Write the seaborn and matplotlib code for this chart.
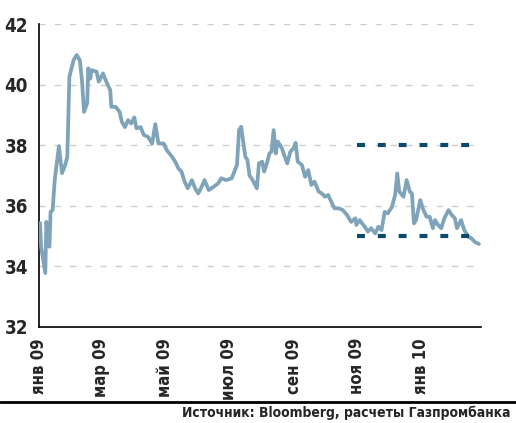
import matplotlib
matplotlib.use('Agg')
import matplotlib.pyplot as plt
import seaborn as sns
import pandas as pd

# days since 1 Jan 2009 and index level
days = [1, 2, 6, 7, 10, 11, 13, 15, 19, 22, 25, 27, 29, 33, 36, 39, 41, 43, 46, 47,
        49, 50, 55, 57, 61, 65, 68, 69, 73, 77, 79, 82, 85, 88, 91, 93, 97, 100, 104, 108,
        111, 114, 119, 122, 127, 130, 133, 136, 139, 142, 146, 149, 152, 155, 158, 162, 166, 171, 174, 179,
        184, 189, 191, 193, 197, 199, 201, 204, 208, 210, 213, 215, 218, 220, 222, 224, 226, 228, 232, 234,
        237, 240, 243, 245, 247, 251, 254, 257, 260, 263, 267, 270, 273, 276, 279, 282, 286, 290, 294, 298,
        302, 303, 306, 311, 314, 317, 321, 324, 327, 330, 333, 337, 340, 342, 344, 348, 351, 354, 356, 358,
        360, 364, 367, 370, 373, 376, 378, 381, 384, 387, 391, 394, 397, 399, 403, 406, 410, 413, 416, 420]
values = [35.43, 34.65, 33.78, 35.47, 34.65, 35.8, 35.86, 36.85, 37.97, 37.08, 37.35, 37.62, 40.26, 40.81, 40.98, 40.8, 40.15, 39.1, 39.39, 40.54,
          40.2, 40.48, 40.43, 40.1, 40.37, 40.04, 39.82, 39.27, 39.27, 39.1, 38.78, 38.6, 38.83, 38.72, 38.92, 38.56, 38.6, 38.34, 38.28, 38.06,
          38.7, 38.06, 38.06, 37.84, 37.62, 37.46, 37.24, 37.13, 36.8, 36.58, 36.85, 36.58, 36.41, 36.61, 36.85, 36.52, 36.61, 36.74, 36.91, 36.85,
          36.91, 37.35, 38.5, 38.61, 37.62, 37.51, 37.0, 36.85, 36.58, 37.4, 37.46, 37.13, 37.46, 37.73, 37.79, 38.5, 37.73, 38.12, 37.9, 37.68,
          37.4, 37.79, 37.9, 38.08, 37.46, 37.35, 36.96, 37.18, 36.69, 36.8, 36.47, 36.41, 36.3, 36.36, 36.14, 35.92, 35.92, 35.86, 35.7, 35.47,
          35.59, 35.37, 35.53, 35.31, 35.15, 35.26, 35.09, 35.31, 35.2, 35.8, 35.75, 35.97, 36.36, 37.07, 36.47, 36.3, 36.85, 36.47, 36.41, 35.42,
          35.53, 36.19, 35.86, 35.64, 35.64, 35.26, 35.53, 35.37, 35.26, 35.59, 35.86, 35.7, 35.59, 35.26, 35.53, 35.2, 34.98, 34.92, 34.81, 34.74]

# corridor levels drawn from November 2009
corridor_levels = [38, 35]
corridor_start = '2009-11-01'

tick_dates = ['2009-01-01', '2009-03-01', '2009-05-01', '2009-07-01', '2009-09-01', '2009-11-01', '2010-01-01']
tick_labels = ['янв 09', 'мар 09', 'май 09', 'июл 09', 'сен 09', 'ноя 09', 'янв 10']
y_ticks = [32, 34, 36, 38, 40, 42]
source = 'Источник: Bloomberg, расчеты Газпромбанка'

sns.set_style('white')
plt.rcParams['font.family'] = ['DejaVu Sans']
plt.rcParams['font.stretch'] = 'condensed'

df = pd.DataFrame({'date': pd.Timestamp('2009-01-01') + pd.to_timedelta(days, unit='D'),
                   'value': values})
x_start = pd.Timestamp('2009-01-01')
x_end = pd.Timestamp('2010-02-27')

fig = plt.figure(figsize=(5.16, 4.23), dpi=100)
ax = fig.add_axes([0.0756, 0.227, 0.8566, 0.716])

# dashed grid lines stop just short of the right edge
for lvl in y_ticks[1:]:
    ax.plot([x_start, x_end - pd.Timedelta(days=3)], [lvl, lvl], color='#cccccc', lw=1,
            dashes=(4.5, 6.5), zorder=1)

sns.lineplot(data=df, x='date', y='value', ax=ax, color='#7fa3b8', lw=2.7, zorder=3)

for lvl in corridor_levels:
    ax.plot([pd.Timestamp(corridor_start), x_end - pd.Timedelta(days=3)], [lvl, lvl],
            color='#0b4a6e', lw=3, dashes=(1.9, 3.1), zorder=4)

ax.set_xlim(x_start, x_end)
ax.set_ylim(32, 42)
ax.set_yticks(y_ticks)
ax.set_yticklabels([str(t) for t in y_ticks], fontsize=13.5, fontweight='bold', fontstretch='condensed')
ax.set_xticks(pd.to_datetime(tick_dates))
ax.set_xticklabels(tick_labels, rotation=90, fontsize=12, fontweight='bold', fontstretch='condensed')
ax.set_xlabel('')
ax.set_ylabel('')

for side in ['top', 'right']:
    ax.spines[side].set_visible(False)
for side in ['left', 'bottom']:
    ax.spines[side].set_color('black')
    ax.spines[side].set_linewidth(1.2)
ax.tick_params(axis='both', direction='out', length=5, width=1, color='black', pad=3)

fig.add_artist(plt.Line2D([0, 1], [1 - 402 / 423] * 2, color='black', lw=2))
fig.text(0.99, 1 - 413 / 423, source, ha='right', va='center', fontsize=10,
         fontweight='bold', fontstretch='condensed')

fig.savefig('out.png', dpi=100)
